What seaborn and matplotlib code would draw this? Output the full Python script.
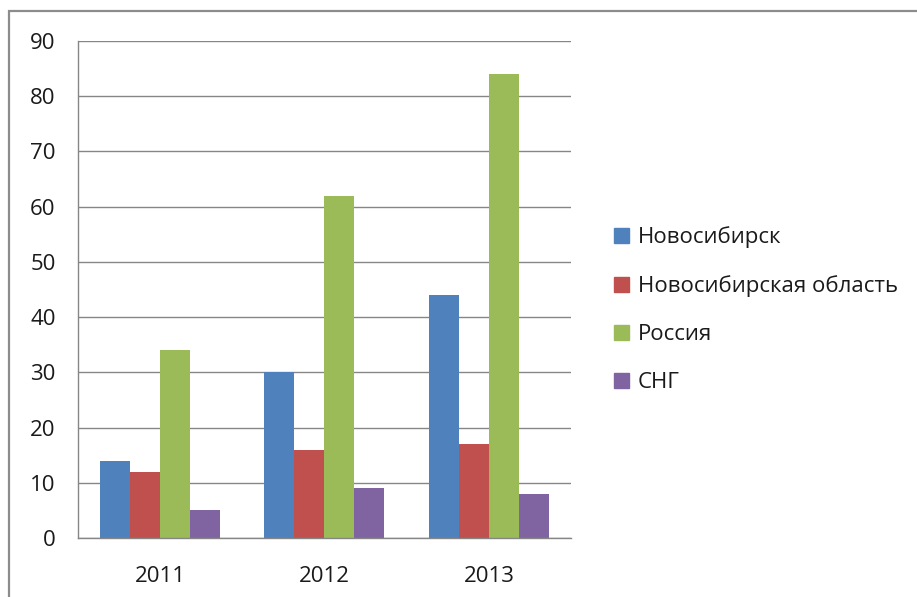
import pandas as pd
import matplotlib.pyplot as plt
import matplotlib.patches as patches
import seaborn as sns

YEARS = ["2011", "2012", "2013"]
SERIES = ["Новосибирск", "Новосибирская область", "Россия", "СНГ"]
NOVOSIBIRSK = [14, 30, 44]
NSO = [12, 16, 17]
RUSSIA = [34, 62, 84]
CIS = [5, 9, 8]
Y_TICKS = [0, 10, 20, 30, 40, 50, 60, 70, 80, 90]

PALETTE = {
    "Новосибирск": "#4F81BD",
    "Новосибирская область": "#C0504D",
    "Россия": "#9BBB59",
    "СНГ": "#8064A2",
}

GRID_GRAY = "#868686"
TEXT_COLOR = "#1a1a1a"

rows = []
for name, values in zip(SERIES, [NOVOSIBIRSK, NSO, RUSSIA, CIS]):
    for year, v in zip(YEARS, values):
        rows.append({"year": year, "series": name, "value": v})
df = pd.DataFrame(rows)

sns.set_style("white")
plt.rcParams["font.family"] = ["Open Sans", "DejaVu Sans"]

fig = plt.figure(figsize=(9.17, 5.97), dpi=100)
ax = fig.add_axes([0.085, 0.0988, 0.5377, 0.8325])

sns.barplot(
    data=df,
    x="year",
    y="value",
    hue="series",
    hue_order=SERIES,
    order=YEARS,
    palette=PALETTE,
    width=0.73,
    saturation=1,
    errorbar=None,
    linewidth=0,
    ax=ax,
)

ax.set_xlim(-0.5, 2.5)
ax.set_ylim(0, 90)
ax.set_yticks(Y_TICKS)
ax.set_xlabel("")
ax.set_ylabel("")
ax.yaxis.grid(True, color=GRID_GRAY, linewidth=1)
ax.set_axisbelow(True)

for side in ["top", "right"]:
    ax.spines[side].set_visible(False)
for side in ["left", "bottom"]:
    ax.spines[side].set_color(GRID_GRAY)
    ax.spines[side].set_linewidth(1)

ax.set_xticks([-0.5, 0.5, 1.5, 2.5], minor=True)
ax.tick_params(axis="x", which="major", length=0, pad=20, labelsize=16, labelcolor=TEXT_COLOR)
ax.tick_params(axis="x", which="minor", length=7, color=GRID_GRAY, direction="out")
ax.tick_params(axis="y", length=7, color=GRID_GRAY, direction="out", pad=9,
               labelsize=16, labelcolor=TEXT_COLOR)

handles = [patches.Patch(color=PALETTE[s]) for s in SERIES]
ax.legend_.remove()
fig.legend(
    handles,
    SERIES,
    loc="center left",
    bbox_to_anchor=(0.648, 0.481),
    frameon=False,
    fontsize=16,
    handlelength=0.65,
    handleheight=0.65,
    handletextpad=0.4,
    labelspacing=1.22,
    labelcolor=TEXT_COLOR,
)

frame = patches.Rectangle(
    (9 / 917, -0.1), 2, 1.1 - 11 / 597,
    transform=fig.transFigure, fill=False,
    edgecolor="#8c8c8c", linewidth=1.6,
)
fig.patches.append(frame)

fig.savefig("out.png", dpi=100)
